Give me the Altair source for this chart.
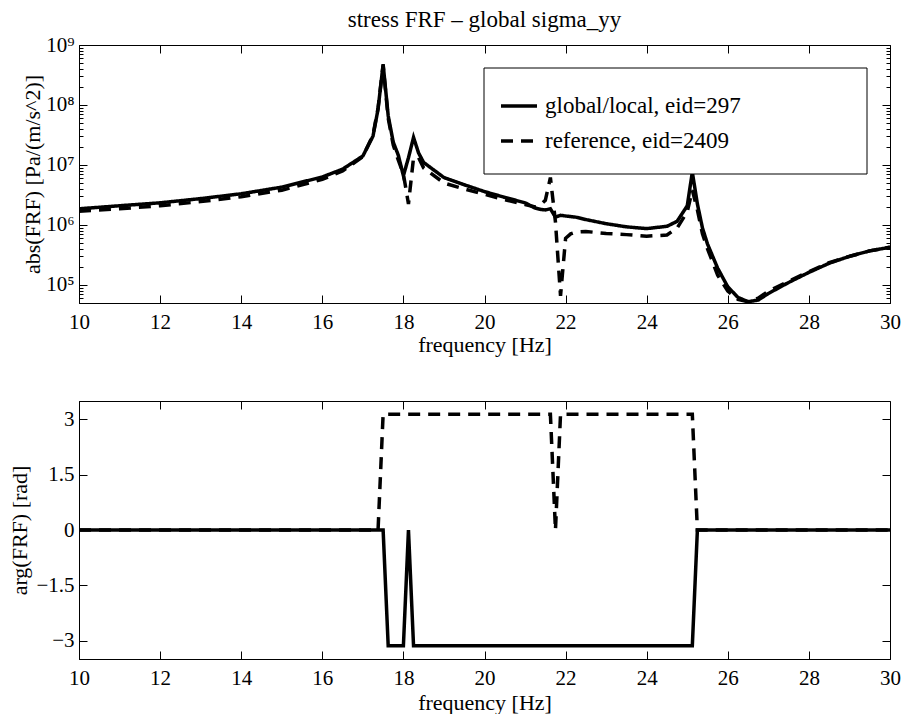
import altair as alt
import pandas as pd

FONT = "Liberation Serif"
SERIES = ["global/local, eid=297", "reference, eid=2409"]

# ---- magnitude data (top panel) ----
freq = [10, 11, 12, 13, 14, 15, 16, 16.5, 17, 17.25, 17.375, 17.5, 17.625, 17.75,
        17.875, 18.0, 18.125, 18.25, 18.375, 18.5, 19, 19.5, 20, 20.5, 21, 21.25,
        21.375, 21.5, 21.625, 21.75, 21.875, 22.0, 22.125, 22.25, 22.5, 23, 23.5,
        24, 24.5, 24.75, 25.0, 25.125, 25.25, 25.375, 25.5, 25.75, 26, 26.25, 26.5,
        26.75, 27, 27.5, 28, 28.5, 29, 29.5, 30]

mag_global = [1.86e6, 2.09e6, 2.34e6, 2.75e6, 3.31e6, 4.27e6, 6.31e6, 8.51e6, 1.41e7,
              3.02e7, 8.51e7, 4.79e8, 6.61e7, 2.40e7, 1.45e7, 6.61e6, 1.32e7, 2.88e7,
              1.58e7, 1.10e7, 6.17e6, 4.68e6, 3.60e6, 2.88e6, 2.34e6, 1.91e6, 1.82e6,
              1.78e6, 1.86e6, 1.35e6, 1.45e6, 1.41e6, 1.38e6, 1.35e6, 1.23e6, 1.05e6,
              9.3e5, 8.7e5, 9.5e5, 1.15e6, 2.09e6, 7.59e6, 2.24e6, 8.9e5, 4.8e5, 1.9e5,
              9.3e4, 6.2e4, 5.25e4, 5.6e4, 7.2e4, 1.1e5, 1.62e5, 2.3e5, 3.0e5, 3.7e5,
              4.25e5]

mag_reference = [1.70e6, 1.86e6, 2.09e6, 2.45e6, 2.95e6, 3.80e6, 5.75e6, 7.94e6, 1.38e7,
                 3.16e7, 8.91e7, 4.57e8, 6.03e7, 2.14e7, 1.20e7, 7.08e6, 2.24e6, 1.32e7,
                 1.32e7, 8.91e6, 5.01e6, 3.98e6, 3.24e6, 2.63e6, 2.19e6, 2.0e6, 2.14e6,
                 2.57e6, 6.17e6, 1.12e6, 6.6e4, 6.0e5, 7.1e5, 7.6e5, 7.8e5, 7.2e5,
                 6.9e5, 6.5e5, 6.8e5, 8.9e5, 1.66e6, 3.8e6, 1.78e6, 7.1e5, 4.0e5, 1.45e5,
                 7.9e4, 5.75e4, 5.25e4, 6.0e4, 7.9e4, 1.15e5, 1.66e5, 2.35e5, 3.0e5, 3.7e5,
                 4.25e5]

# ---- phase data (bottom panel) ----
phase_freq_global = [10, 17.5, 17.625, 18.0, 18.125, 18.25, 25.125, 25.25, 30]
phase_global = [0, 0, -3.14159, -3.14159, 0, -3.14159, -3.14159, 0, 0]
phase_freq_reference = [10, 17.375, 17.5, 21.625, 21.75, 21.875, 25.125, 25.25, 30]
phase_reference = [0, 0, 3.14159, 3.14159, 0, 3.14159, 3.14159, 0, 0]

# ---- tick labels ----
x_ticks = [10, 12, 14, 16, 18, 20, 22, 24, 26, 28, 30]
log_major = [1e5, 1e6, 1e7, 1e8, 1e9]
log_minor = [m * 10 ** e for e in range(4, 9) for m in range(2, 10) if m * 10 ** e >= 5e4]
phase_ticks = [-3, -1.5, 0, 1.5, 3]

mag_df = pd.DataFrame({
    "freq": freq + freq,
    "value": mag_global + mag_reference,
    "series": [SERIES[0]] * len(freq) + [SERIES[1]] * len(freq),
    "order": list(range(len(freq))) * 2,
})
phase_df = pd.DataFrame({
    "freq": phase_freq_global + phase_freq_reference,
    "value": phase_global + phase_reference,
    "series": [SERIES[0]] * len(phase_freq_global) + [SERIES[1]] * len(phase_freq_reference),
    "order": list(range(len(phase_freq_global))) + list(range(len(phase_freq_reference))),
})

W, H = 811, 258
TICK = 8
MINOR = 4
LW = 3.5

def x_enc(title_pad):
    return alt.X("freq:Q",
                 scale=alt.Scale(domain=[10, 30], nice=False, zero=False),
                 axis=alt.Axis(values=x_ticks, title="frequency [Hz]", ticks=False,
                               grid=True, gridColor="black", gridOpacity=1, gridWidth=1,
                               gridDash=[TICK, H - 2 * TICK, TICK, 3000],
                               labelFlush=False, labelFont=FONT, labelFontSize=21,
                               labelColor="black", labelPadding=8,
                               titleFont=FONT, titleFontSize=22, titleFontWeight="normal",
                               titleColor="black", titlePadding=title_pad,
                               domainColor="black", domainWidth=1))

dash_top = alt.StrokeDash("series:N",
                          scale=alt.Scale(domain=SERIES, range=[[1, 0], [12, 8]]),
                          legend=alt.Legend(title=None, orient="none", legendX=420, legendY=41,
                                            symbolType="stroke", symbolSize=1296,
                                            symbolStrokeWidth=LW, symbolStrokeColor="black",
                                            labelFont=FONT, labelFontSize=23, labelColor="black",
                                            labelOffset=6, rowPadding=3, padding=0,
                                            labelLimit=500, zindex=2))

major_test = "abs(log(datum.value)/LN10 - round(log(datum.value)/LN10)) < 0.000001"
sup = "['\u2070','\u00b9','\u00b2','\u00b3','\u2074','\u2075','\u2076','\u2077','\u2078','\u2079']"

y_top = alt.Y("value:Q",
              scale=alt.Scale(type="log", domain=[5e4, 1e9], nice=False),
              axis=alt.Axis(values=log_major + log_minor,
                            title="abs(FRF) [Pa/(m/s^2)]",
                            labelExpr=f"{major_test} ? '10' + {sup}[round(log(datum.value)/LN10)] : ''",
                            ticks=False, grid=True, gridColor="black", gridOpacity=1, gridWidth=1,
                            gridDash={"condition": {"test": major_test,
                                                    "value": [TICK, W - 2 * TICK, TICK, 3000]},
                                      "value": [MINOR, W - 2 * MINOR, MINOR, 3000]},
                            labelOverlap=False, labelFont=FONT, labelFontSize=21,
                            labelColor="black", labelPadding=5,
                            titleFont=FONT, titleFontSize=22, titleFontWeight="normal",
                            titleColor="black", titlePadding=1,
                            domainColor="black", domainWidth=1))

lines_top = alt.Chart(mag_df).mark_line(color="black", strokeWidth=LW, clip=True).encode(
    x=x_enc(2), y=y_top, strokeDash=dash_top, order="order:Q")

legend_box = alt.Chart(pd.DataFrame({"k": [0]})).mark_rect(
    fill="white", stroke="black", strokeWidth=1).encode(
    x=alt.value(405), x2=alt.value(788), y=alt.value(23), y2=alt.value(129))

top = alt.layer(lines_top, legend_box).properties(
    width=W, height=H,
    title=alt.TitleParams("stress FRF \u2013 global sigma_yy", font=FONT, fontSize=23,
                          fontWeight="normal", color="black", anchor="middle",
                          frame="group", offset=2))

y_bot = alt.Y("value:Q",
              scale=alt.Scale(domain=[-3.5, 3.5], nice=False, zero=False),
              axis=alt.Axis(values=phase_ticks,
                            labelExpr="replace(toString(datum.value), '-', '\u2212')",
                            title="arg(FRF) [rad]",
                            ticks=False, grid=True, gridColor="black", gridOpacity=1, gridWidth=1,
                            gridDash=[TICK, W - 2 * TICK, TICK, 3000],
                            labelFont=FONT, labelFontSize=21, labelColor="black", labelPadding=5,
                            titleFont=FONT, titleFontSize=22, titleFontWeight="normal",
                            titleColor="black", titlePadding=4,
                            domainColor="black", domainWidth=1))

bottom = alt.Chart(phase_df).mark_line(color="black", strokeWidth=LW, clip=True).encode(
    x=x_enc(4), y=y_bot,
    strokeDash=alt.StrokeDash("series:N",
                              scale=alt.Scale(domain=SERIES, range=[[1, 0], [12, 8]]),
                              legend=None),
    order="order:Q").properties(width=W, height=H)

chart = alt.vconcat(top, bottom, spacing=44).resolve_scale(
    strokeDash="independent").resolve_legend(strokeDash="independent").properties(
    padding={"left": 0, "top": 0, "right": 0, "bottom": 0},
    background="white").configure_view(stroke="black", strokeWidth=1)

chart.save("out.html", embed_options={"renderer": "svg", "actions": False})
